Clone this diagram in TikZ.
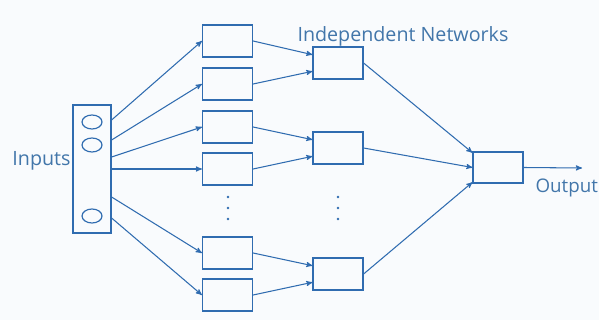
\documentclass[tikz,border=0pt]{standalone}
\usepackage{fontspec}
\setmainfont{Open Sans}
\usepackage{tikz}
\usepackage{color}
\usetikzlibrary{arrows}
\usetikzlibrary{shapes.geometric}

\definecolor{netblue}{RGB}{48,108,176}
\definecolor{labelblue}{RGB}{66,118,170}

\begin{document}
\begin{tikzpicture}[x=0.03cm, y=-0.03cm, line width=0.9pt, draw=netblue,
	box/.style={draw=netblue, line width=1pt, minimum width=1.5cm, minimum height=0.96cm, inner sep=0pt},
	unit/.style={draw=netblue, ellipse, line width=1pt, minimum width=0.6cm, minimum height=0.42cm, inner sep=0pt},
	lbl/.style={text=labelblue, inner sep=0pt, font=\fontsize{16.8}{19}\selectfont},
	vdot/.style={circle, fill=netblue, minimum size=2.2pt, inner sep=0pt}]
		\fill[white!97!netblue] (0,0) rectangle (599,320);
		\useasboundingbox (0,0) rectangle (599,320);
		% input layer
		\node[box, minimum width=1.14cm, minimum height=3.84cm] (inp) at (92,169) {};
		\node[unit] (u1) at (92,122) {};
		\node[unit] (u2) at (92,145) {};
		\node[unit] (u3) at (92,216) {};
		\node[lbl, anchor=base east] (inlbl) at (71,166) {Inputs};
		% first layer of the networks
		\foreach \i/\y in {1/41,2/84,3/127,4/169,5/253,6/295} {
			\node[box] (A\i) at (227.5,\y) {};
		}
		% second layer
		\foreach \i/\y in {1/63,2/148,3/274} {
			\node[box] (B\i) at (338,\y) {};
		}
		\node[box, minimum height=0.93cm] (out) at (498,167.5) {};
		\coordinate (outend) at (582,168);
		\node[lbl, anchor=base west, font=\fontsize{16}{19}\selectfont] (outlbl) at (535,193) {Output};
		\node[lbl, anchor=base west] (netlbl) at (297,42) {Independent Networks};
		% dots for the left out networks
		\foreach \x/\n in {228/A,338/B} {
			\foreach \y [count=\k] in {197,208,219} {
				\node[vdot] (dot\n\k) at (\x,\y) {};
			}
		}
		% inputs to the first layer
		\foreach \i/\y in {1/120,2/140,3/157,4/169,5/197,6/218} {
			\draw [arrows={-stealth'}] (inp.east |- 0,\y) -- (A\i.west);
		}
		% first layer to second layer
		\draw [arrows={-stealth'}] (A1.east) -- (B1.162);
		\draw [arrows={-stealth'}] (A2.east) -- (B1.198);
		\draw [arrows={-stealth'}] (A3.east) -- (B2.162);
		\draw [arrows={-stealth'}] (A4.east) -- (B2.198);
		\draw [arrows={-stealth'}] (A5.east) -- (B3.162);
		\draw [arrows={-stealth'}] (A6.east) -- (B3.198);
		% second layer to the output
		\draw [arrows={-stealth'}] (B1.east) -- (out.150);
		\draw [arrows={-stealth'}] (B2.east) -- (out.west);
		\draw [arrows={-stealth'}] (B3.east) -- (out.210);
		\draw [arrows={-stealth'}] (out.east) -- (outend);
		\end{tikzpicture}
\end{document}
